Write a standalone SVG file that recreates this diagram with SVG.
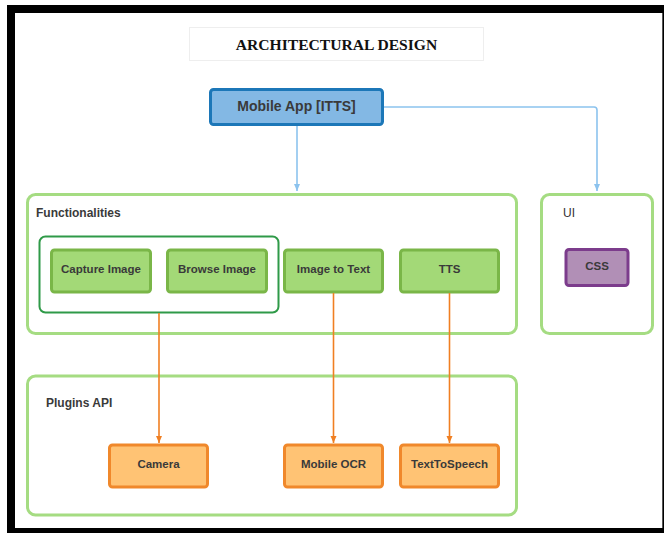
<svg xmlns="http://www.w3.org/2000/svg" width="664" height="533" viewBox="0 0 664 533">
<style>
.lbl{font-family:"Liberation Sans",Arial,sans-serif;font-weight:bold;fill:#3a3a3a;text-anchor:middle;dominant-baseline:central}
.clbl{font-family:"Liberation Sans",Arial,sans-serif;font-weight:bold;font-size:12px;fill:#3a3a3a}
.cont{fill:#ffffff;stroke:#a5dc82;stroke-width:3}
.green{fill:#a3d977;stroke:#7ab648;stroke-width:3}
.orange{fill:#ffc374;stroke:#f0882b;stroke-width:3}
.blueln{fill:none;stroke:#8cc3ee;stroke-width:1.6}
.orangeln{fill:none;stroke:#f07f22;stroke-width:1.6}
</style>
<defs>
<marker id="ab" markerWidth="8" markerHeight="10" refX="7" refY="4" orient="auto" markerUnits="userSpaceOnUse" viewBox="0 0 8 8">
<path d="M0,1 L7,4 L0,7 Z" fill="#8cc3ee"/>
</marker>
<marker id="ao" markerWidth="8" markerHeight="10" refX="7" refY="4" orient="auto" markerUnits="userSpaceOnUse" viewBox="0 0 8 8">
<path d="M0,1 L7,4 L0,7 Z" fill="#f07f22"/>
</marker>
</defs>
<rect x="0" y="0" width="664" height="533" fill="#ffffff"/>
<g id="frame">
<rect x="7" y="5" width="657" height="528" fill="#000000"/>
<rect x="15" y="13" width="647" height="515" fill="#ffffff"/>
<line x1="662.5" y1="13" x2="662.5" y2="528" stroke="#555555" stroke-width="1"/>
</g>
<g id="title">
<rect x="189.5" y="27.5" width="294" height="33" fill="#ffffff" stroke="#eeeeee" stroke-width="1"/>
<text x="336.5" y="44" font-family="'Liberation Serif','Times New Roman',serif" font-weight="bold" font-size="15.6" fill="#111111" text-anchor="middle" dominant-baseline="central">ARCHITECTURAL DESIGN</text>
</g>
<g id="functionalities">
<rect class="cont" x="27.5" y="194.5" width="489" height="139" rx="8"/>
<text class="clbl" x="36" y="217">Functionalities</text>
</g>
<g id="ui">
<rect class="cont" x="541.5" y="194.5" width="111" height="139" rx="8"/>
<text x="563" y="217" font-family="'Liberation Sans',Arial,sans-serif" font-size="12" fill="#333333">UI</text>
</g>
<g id="plugins-api">
<rect class="cont" x="27.5" y="376" width="489" height="139" rx="8"/>
<text class="clbl" x="46" y="407">Plugins API</text>
</g>
<g id="capture-group">
<rect x="39.5" y="236.5" width="239" height="76" rx="6" fill="none" stroke="#2f9a48" stroke-width="2"/>
</g>
<g id="mobile-app">
<rect x="210.5" y="89.5" width="172" height="35" rx="3" fill="#83b8e4" stroke="#1c77b8" stroke-width="3"/>
<text class="lbl" x="296.5" y="106" font-size="14">Mobile App [ITTS]</text>
</g>
<g id="capture-image">
<rect class="green" x="51.5" y="250" width="99" height="42" rx="3"/>
<text class="lbl" x="101" y="269" font-size="11.5">Capture Image</text>
</g>
<g id="browse-image">
<rect class="green" x="167.5" y="250" width="99" height="42" rx="3"/>
<text class="lbl" x="217" y="269" font-size="11.5">Browse Image</text>
</g>
<g id="image-to-text">
<rect class="green" x="284.5" y="250" width="98" height="42" rx="3"/>
<text class="lbl" x="333.5" y="269" font-size="11.5">Image to Text</text>
</g>
<g id="tts">
<rect class="green" x="400.5" y="250" width="98" height="42" rx="3"/>
<text class="lbl" x="449.5" y="269" font-size="11.5">TTS</text>
</g>
<g id="css">
<rect x="566" y="249.5" width="62" height="36" rx="3" fill="#b18fb6" stroke="#7c3c8c" stroke-width="3"/>
<text class="lbl" x="597" y="266" font-size="11.5">CSS</text>
</g>
<g id="camera">
<rect class="orange" x="109.5" y="445" width="98" height="42" rx="3"/>
<text class="lbl" x="158.5" y="464" font-size="11.5">Camera</text>
</g>
<g id="mobile-ocr">
<rect class="orange" x="284.5" y="445" width="98" height="42" rx="3"/>
<text class="lbl" x="333.5" y="464" font-size="11.5">Mobile OCR</text>
</g>
<g id="text-to-speech">
<rect class="orange" x="400.5" y="445" width="98" height="42" rx="3"/>
<text class="lbl" x="449.5" y="464" font-size="11.5">TextToSpeech</text>
</g>
<g id="connectors">
<path class="blueln" d="M297,126 L297,191" marker-end="url(#ab)"/>
<path class="blueln" d="M384,107 L594,107 Q597,107 597,110 L597,191" marker-end="url(#ab)"/>
<path class="orangeln" d="M159,313 L159,443" marker-end="url(#ao)"/>
<path class="orangeln" d="M333.5,293 L333.5,443" marker-end="url(#ao)"/>
<path class="orangeln" d="M449.5,293 L449.5,443" marker-end="url(#ao)"/>
</g>
</svg>
